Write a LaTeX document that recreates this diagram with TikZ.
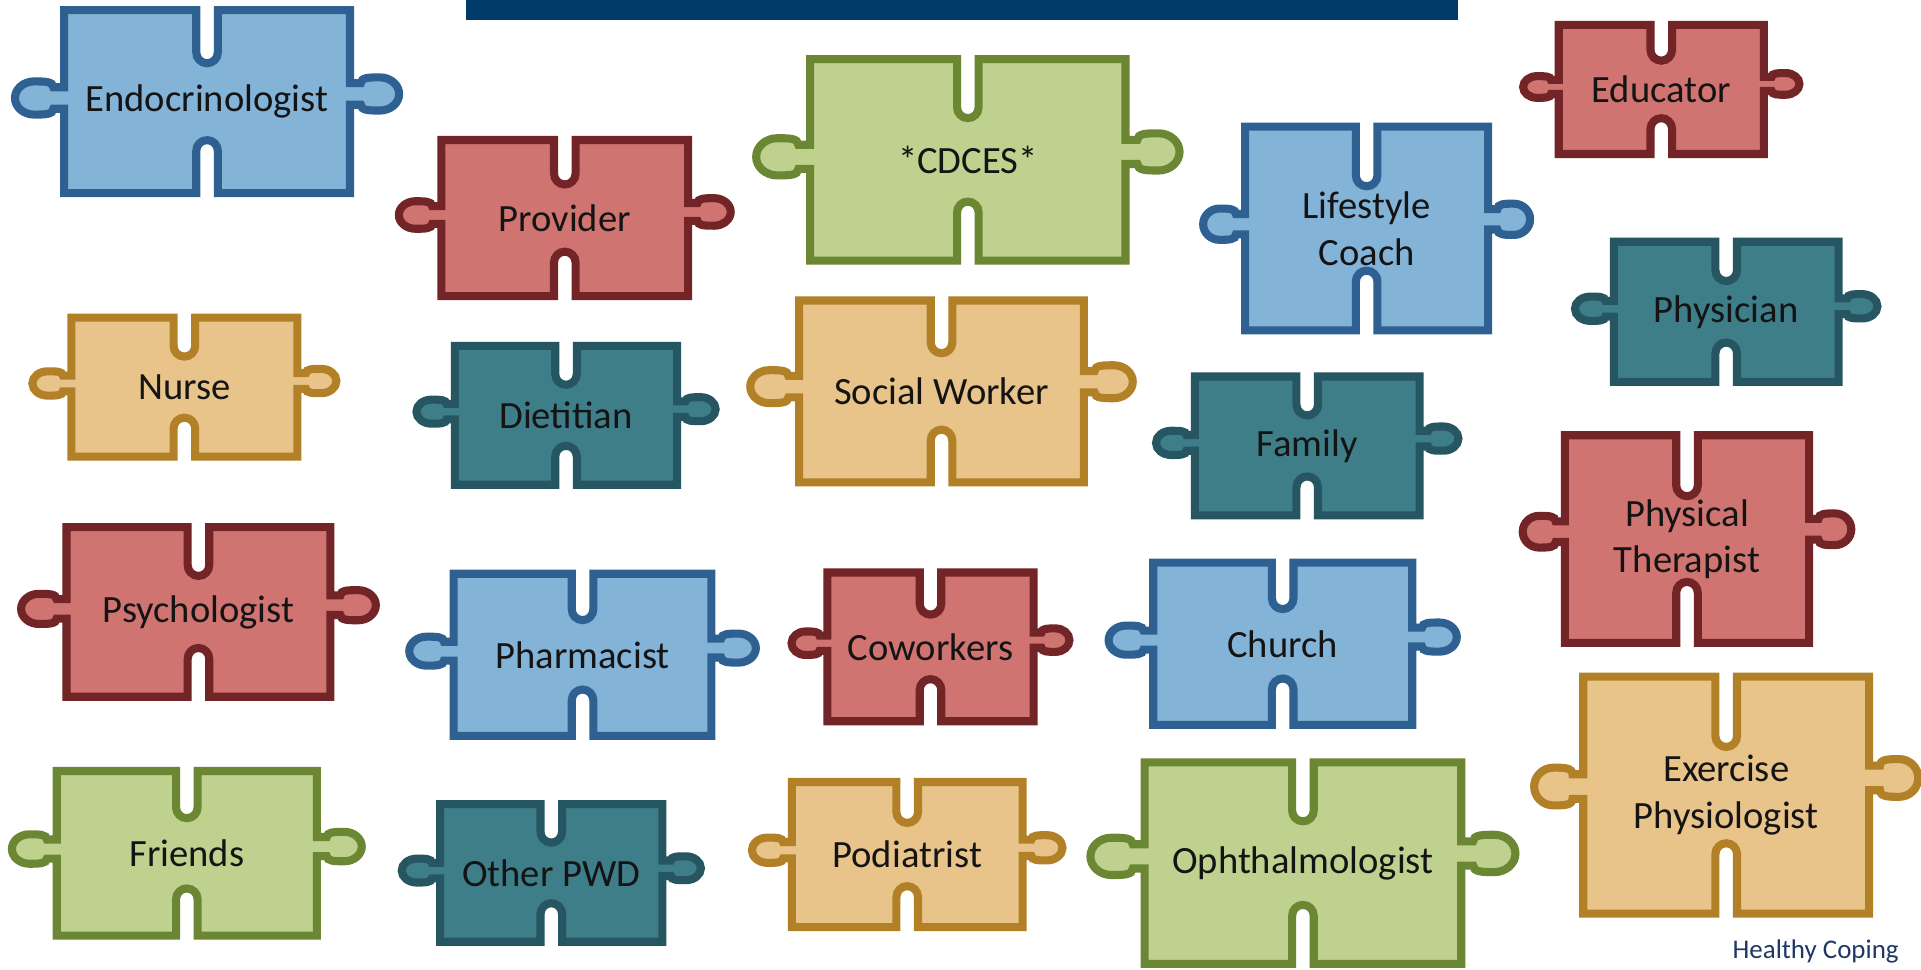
\documentclass[tikz,border=0pt]{standalone}
\usepackage{fontspec}
\setmainfont{Carlito}
\usepackage{tikz}
\definecolor{bluefill}{RGB}{132, 179, 216}
\definecolor{blueline}{RGB}{46, 97, 145}
\definecolor{redfill}{RGB}{208, 116, 114}
\definecolor{redline}{RGB}{114, 36, 38}
\definecolor{greenfill}{RGB}{190, 209, 142}
\definecolor{greenline}{RGB}{108, 135, 52}
\definecolor{tanfill}{RGB}{232, 196, 138}
\definecolor{tanline}{RGB}{178, 128, 38}
\definecolor{tealfill}{RGB}{62, 126, 137}
\definecolor{tealline}{RGB}{38, 86, 98}
\definecolor{barblue}{RGB}{0, 58, 107}
\definecolor{textnavy}{RGB}{31, 56, 100}

\tikzset{
  piece/.style={line width=\pcline pt, line join=miter},
  bluepiece/.style={draw=blueline, fill=bluefill},
  redpiece/.style={draw=redline, fill=redfill},
  greenpiece/.style={draw=greenline, fill=greenfill},
  tanpiece/.style={draw=tanline, fill=tanfill},
  tealpiece/.style={draw=tealline, fill=tealfill},
  piecetext/.style={font=\fontsize{31.5}{38}\selectfont, align=center, text=black!92, inner sep=0pt}
}

\newcommand{\pcline}{6.6}
\newcommand{\slotw}{8.8}

% #1 colour style, #2 name, #3-#6 body box, #7/#8 left/right tab height, #9 text
\newcommand{\piece}[9]{%
  \pgfmathsetmacro{\pcw}{#5-#3}%
  \pgfmathsetmacro{\pch}{#6-#4}%
  \pgfmathsetmacro{\pcl}{#3+\pcline/2}%
  \pgfmathsetmacro{\pcr}{#5-\pcline/2}%
  \pgfmathsetmacro{\pct}{#4+\pcline/2}%
  \pgfmathsetmacro{\pcb}{#6-\pcline/2}%
  \pgfmathsetmacro{\pcx}{(#3+#5)/2}%
  \pgfmathsetmacro{\pcy}{(#4+#6)/2}%
  \pgfmathsetmacro{\slotl}{0.32*\pch-\pcline-\slotw}%
  \pgfmathsetmacro{\tabo}{0.167*\pcw}%
  \pgfmathsetmacro{\tabr}{(0.085*(\pcw+\pch)-\pcline)/2}%
  \pgfmathsetmacro{\tabn}{0.65*\tabr}%
  \pgfmathsetmacro{\tabl}{0.22*\tabo}%
  \pgfmathsetmacro{\tabk}{(\tabo-\tabl)/2}%
  \draw[piece, #1]
    (\pcl,\pct) -- ({\pcx-\slotw},\pct) -- ({\pcx-\slotw},{\pct+\slotl})
    arc[start angle=180, end angle=0, radius=\slotw]
    -- ({\pcx+\slotw},\pct) -- (\pcr,\pct)
    -- (\pcr,{#8-\tabn}) -- ({\pcr+\tabl},{#8-\tabn})
    .. controls ({\pcr+\tabl},{#8-\tabr}) and ({\pcr+\tabl+0.45*\tabk},{#8-\tabr}) .. ({\pcr+\tabl+\tabk},{#8-\tabr})
    .. controls ({\pcr+\tabl+1.55*\tabk},{#8-\tabr}) and ({\pcr+\tabo},{#8-0.55*\tabr}) .. ({\pcr+\tabo},#8)
    .. controls ({\pcr+\tabo},{#8+0.55*\tabr}) and ({\pcr+\tabl+1.55*\tabk},{#8+\tabr}) .. ({\pcr+\tabl+\tabk},{#8+\tabr})
    .. controls ({\pcr+\tabl+0.45*\tabk},{#8+\tabr}) and ({\pcr+\tabl},{#8+\tabr}) .. ({\pcr+\tabl},{#8+\tabn})
    -- (\pcr,{#8+\tabn}) -- (\pcr,\pcb)
    -- ({\pcx+\slotw},\pcb) -- ({\pcx+\slotw},{\pcb-\slotl})
    arc[start angle=0, end angle=-180, radius=\slotw]
    -- ({\pcx-\slotw},\pcb) -- (\pcl,\pcb)
    -- (\pcl,{#7+\tabn}) -- ({\pcl-\tabl},{#7+\tabn})
    .. controls ({\pcl-\tabl},{#7+\tabr}) and ({\pcl-\tabl-0.45*\tabk},{#7+\tabr}) .. ({\pcl-\tabl-\tabk},{#7+\tabr})
    .. controls ({\pcl-\tabl-1.55*\tabk},{#7+\tabr}) and ({\pcl-\tabo},{#7+0.55*\tabr}) .. ({\pcl-\tabo},#7)
    .. controls ({\pcl-\tabo},{#7-0.55*\tabr}) and ({\pcl-\tabl-1.55*\tabk},{#7-\tabr}) .. ({\pcl-\tabl-\tabk},{#7-\tabr})
    .. controls ({\pcl-\tabl-0.45*\tabk},{#7-\tabr}) and ({\pcl-\tabl},{#7-\tabr}) .. ({\pcl-\tabl},{#7-\tabn})
    -- (\pcl,{#7-\tabn}) -- cycle;
  \node[piecetext] (#2) at (\pcx,\pcy) {#9};
}

\begin{document}
\begin{tikzpicture}[x=1pt, y=-1pt]
  \fill[white] (0,0) rectangle (1568,791);
  \useasboundingbox (0,0) rectangle (1568,791);

  % Title bar
  \fill[barblue] (380,0) rectangle (1190,16.5);

  % Row 1
  \piece{bluepiece}{endo}{49}{5}{289}{161}{80}{76.7}{Endocrinologist}
  \piece{redpiece}{provider}{357}{111}{565}{245}{175.5}{173}{Provider}
  \piece{greenpiece}{cdces}{658}{45}{922}{216}{128}{124}{*CDCES*}
  \piece{bluepiece}{coach}{1013}{100}{1218}{273}{183}{179}{Lifestyle\\Coach}
  \piece{redpiece}{educator}{1269}{17}{1443}{129}{71}{68.5}{Educator}
  \piece{tealpiece}{physician}{1314}{194}{1504}{315}{252}{250}{Physician}

  % Row 2
  \piece{tanpiece}{nurse}{55}{256}{246}{376}{313}{311}{Nurse}
  \piece{tealpiece}{dietitian}{368}{279}{556}{399}{336}{334}{Dietitian}
  \piece{tanpiece}{social}{649}{242}{888}{397}{315.6}{311.6}{Social Worker}
  \piece{tealpiece}{family}{972}{304}{1162}{424}{361.5}{358}{Family}
  \piece{redpiece}{therapist}{1274}{352}{1480}{528}{434}{432}{Physical\\Therapist}

  % Row 3
  \piece{redpiece}{psych}{51}{427}{273}{572}{497}{494}{Psychologist}
  \piece{bluepiece}{pharm}{367}{465}{584}{604}{531.5}{529}{Pharmacist}
  \piece{redpiece}{cowork}{672}{464}{847}{592}{525}{522.5}{Coworkers}
  \piece{bluepiece}{church}{938}{456}{1156}{595}{522.5}{520}{Church}
  \piece{tanpiece}{exphys}{1289}{549}{1529}{749}{642}{635}{Exercise\\Physiologist}

  % Row 4
  \piece{greenpiece}{friends}{43}{626}{262}{767}{693}{691}{Friends}
  \piece{tealpiece}{pwd}{356}{653}{544}{772}{710.6}{708.7}{Other PWD}
  \piece{tanpiece}{podiatrist}{643}{635}{838}{760}{694}{692}{Podiatrist}
  \piece{greenpiece}{ophth}{931}{619}{1196}{790}{699}{696.6}{Ophthalmologist}

  % Source
  \node[font=\fontsize{22}{26}\selectfont, text=textnavy, inner sep=0pt] (source) at (1482,777) {Healthy Coping};
\end{tikzpicture}
\end{document}
